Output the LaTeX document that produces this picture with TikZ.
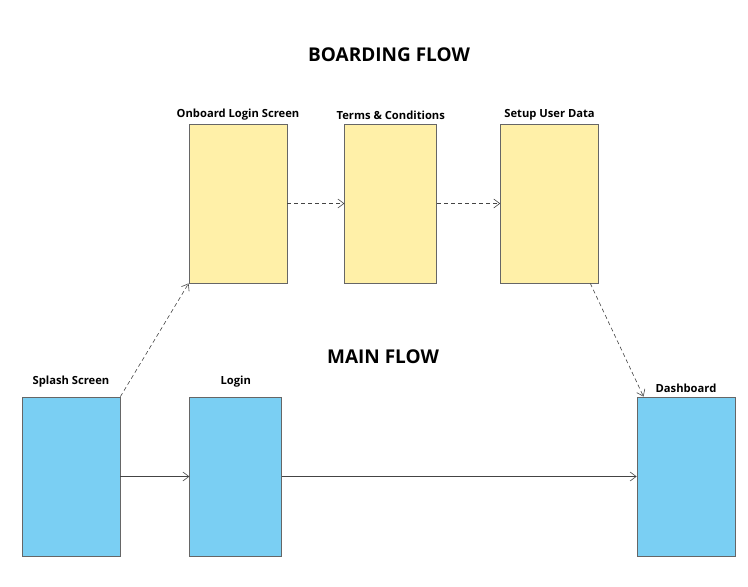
\documentclass[tikz,border=0pt]{standalone}
\usepackage{fontspec}
\setmainfont{Open Sans}
\usetikzlibrary{arrows.meta, positioning}
\definecolor{screenyellow}{HTML}{FFF0A8}
\definecolor{screenblue}{HTML}{7ACFF3}
\definecolor{edgegray}{HTML}{666666}
\definecolor{linkgray}{HTML}{444444}
\tikzset{
  >={Straight Barb[length=6pt,width=9pt]},
  every label/.append style = {font=\bfseries\fontsize{11.2}{13}\selectfont},
  base/.style = {draw=edgegray, line width=0.8pt, minimum height=159pt,
                 inner sep=0pt, label distance=2pt},
}

\begin{document}
\begin{tikzpicture}[
            x=1pt, y=-1pt,
            onboard/.style = {base, fill=screenyellow},
            mainscreen/.style = {base, fill=screenblue},
            flowtitle/.style = {font=\bfseries\fontsize{19}{23}\selectfont},
            link/.style = {->, linkgray, line width=0.6pt},
            optional/.style = {link, dash pattern=on 4pt off 3pt},
        ]
        \useasboundingbox (0,0) rectangle (748,587);

        \node[flowtitle] (boardtitle) at (389,55) {BOARDING FLOW};
        \node[flowtitle] (maintitle)  at (383,357) {MAIN FLOW};

        \node[onboard, minimum width=98pt, label={above:Onboard Login Screen}] (login1) at (238,203.5) {};
        \node[onboard, minimum width=92pt, right=57pt of login1, label={above:Terms \& Conditions}] (terms) {};
        \node[onboard, minimum width=98pt, right=63pt of terms, label={above:Setup User Data}] (setup) {};

        \node[mainscreen, minimum width=98pt, label={[label distance=6pt]above:Splash Screen}] (splash) at (71,476.5) {};
        \node[mainscreen, minimum width=92pt, right=69pt of splash, label={[label distance=6pt]above:Login}] (login) {};
        \node[mainscreen, minimum width=98pt, label={above:Dashboard}] (dash) at (686,476.5) {};

        \draw[optional] (login1) -- (terms);
        \draw[optional] (terms)  -- (setup);
        \draw[optional] (splash.north east) -- (login1.south west);
        \draw[optional] (setup.-63) -- (dash.118);

        \draw[link] (splash) -- (login);
        \draw[link] (login)  -- (dash);

        \end{tikzpicture}
\end{document}
